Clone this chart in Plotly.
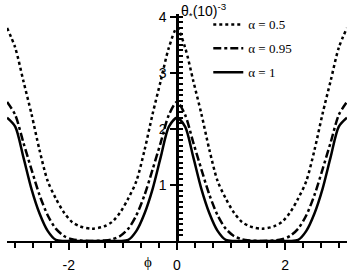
import plotly.graph_objects as go

# phi values (radians)
phi = [-3.14, -2.99, -2.84, -2.69, -2.54, -2.39, -2.24, -2.09, -1.94, -1.79, -1.57,
       -1.35, -1.2, -1.05, -0.9, -0.75, -0.6, -0.45, -0.3, -0.15, 0,
       0.15, 0.3, 0.45, 0.6, 0.75, 0.9, 1.05, 1.2, 1.35, 1.57,
       1.79, 1.94, 2.09, 2.24, 2.39, 2.54, 2.69, 2.84, 2.99, 3.14]

theta_a05 = [3.80, 3.45, 2.86, 2.27, 1.62, 1.07, 0.76, 0.51, 0.34, 0.26, 0.22,
             0.26, 0.34, 0.51, 0.76, 1.07, 1.62, 2.27, 2.86, 3.45, 3.80,
             3.45, 2.86, 2.27, 1.62, 1.07, 0.76, 0.51, 0.34, 0.26, 0.22,
             0.26, 0.34, 0.51, 0.76, 1.07, 1.62, 2.27, 2.86, 3.45, 3.80]

theta_a095 = [2.48, 2.25, 1.76, 1.28, 0.82, 0.46, 0.22, 0.09, 0.03, 0.01, 0.0,
              0.01, 0.03, 0.09, 0.22, 0.46, 0.82, 1.28, 1.76, 2.25, 2.48,
              2.25, 1.76, 1.28, 0.82, 0.46, 0.22, 0.09, 0.03, 0.01, 0.0,
              0.01, 0.03, 0.09, 0.22, 0.46, 0.82, 1.28, 1.76, 2.25, 2.48]

theta_a1 = [2.20, 2.04, 1.50, 0.93, 0.49, 0.18, 0.02, 0.0, 0.0, 0.0, 0.0,
            0.0, 0.0, 0.0, 0.02, 0.18, 0.49, 0.93, 1.50, 2.04, 2.20,
            2.04, 1.50, 0.93, 0.49, 0.18, 0.02, 0.0, 0.0, 0.0, 0.0,
            0.0, 0.0, 0.0, 0.02, 0.18, 0.49, 0.93, 1.50, 2.04, 2.20]

x_tickvals = [-2, 0, 2]
x_ticktext = ["-2", "0", "2"]
y_tickvals = [1, 2, 3, 4]
y_ticktext = ["1", "2", "3", "4"]
y_minor_ticks = [round(0.1 * i, 1) for i in range(1, 41)]

series = [
    ("α = 0.5", theta_a05, "3px,3px", "y"),
    ("α = 0.95", theta_a095, "8px,3px,3px,3px", "y"),
    ("α = 1", theta_a1, "solid", "y2"),
]

fig = go.Figure()
for i, (name, ys, dash, yax) in enumerate(series):
    fig.add_trace(go.Scatter(
        x=phi, y=ys, mode="lines", name=name, legendgroup=str(i), yaxis=yax,
        line=dict(color="black", width=2.5, dash=dash, shape="spline", smoothing=0.8),
    ))

Y_RANGE = [0, 4.05]

fig.update_layout(
    width=353, height=279,
    margin=dict(l=7, r=6, t=14, b=38),
    paper_bgcolor="white", plot_bgcolor="white",
    font=dict(family="Liberation Sans, Arial, sans-serif", size=14, color="black"),
    legend=dict(
        x=0.592, y=1.02, xanchor="left", yanchor="top",
        font=dict(family="Liberation Serif, Times New Roman, serif", size=13, color="black"),
        bgcolor="rgba(0,0,0,0)", tracegroupgap=4, traceorder="grouped",
    ),
    xaxis=dict(
        range=[-3.1416, 3.1416], showgrid=False, zeroline=False,
        showline=True, linecolor="black", linewidth=2,
        tickmode="array", tickvals=x_tickvals, ticktext=x_ticktext,
        ticks="outside", ticklen=7, tickwidth=2, tickcolor="black",
        ticklabelstandoff=3,
        minor=dict(dtick=1/3, tick0=0, ticks="outside", ticklen=5, tickwidth=1.5,
                   tickcolor="black", showgrid=False),
    ),
    yaxis=dict(
        range=Y_RANGE, showgrid=False, zeroline=False,
        anchor="free", position=0.5, side="left",
        showline=True, linecolor="black", linewidth=2.5,
        tickmode="array", tickvals=y_tickvals, ticktext=y_ticktext,
        ticks="outside", ticklen=6, tickwidth=1.5, tickcolor="black",
        ticklabelstandoff=1,
    ),
    yaxis2=dict(
        range=Y_RANGE, showgrid=False, zeroline=False, overlaying="y",
        anchor="free", position=0.5, side="left",
        showline=True, linecolor="black", linewidth=2.5,
        tickmode="array", tickvals=y_minor_ticks, showticklabels=False,
        ticks="inside", ticklen=4, tickwidth=1.5, tickcolor="black",
    ),
    showlegend=True,
)

fig.add_annotation(
    x=0.03, y=1.012, xref="x", yref="paper", xanchor="left", yanchor="middle",
    text="θ<sub>*</sub>(10)<sup>-3</sup>", showarrow=False,
    font=dict(family="Liberation Sans, Arial, sans-serif", size=14, color="black"),
)
fig.add_annotation(
    x=-0.54, y=-0.093, xref="x", yref="paper", xanchor="center", yanchor="middle",
    text="ϕ", showarrow=False,
    font=dict(family="Liberation Serif, Times New Roman, serif", size=15, color="black"),
)

fig.write_html("out.html")
